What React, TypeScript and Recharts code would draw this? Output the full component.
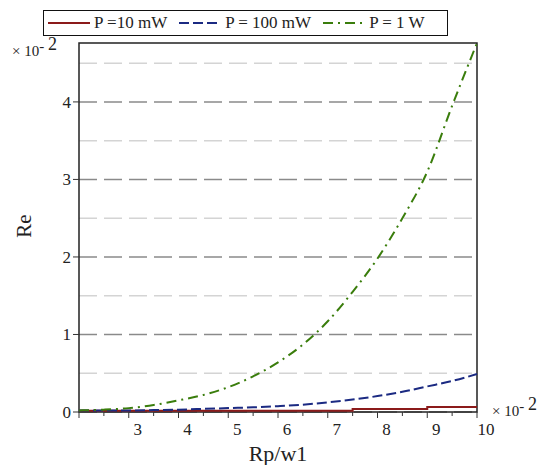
import { LineChart, Line, XAxis, YAxis, CartesianGrid, ReferenceArea, Customized } from 'recharts'

// Rp/w1 values (x 10^-2)
const rpW1 = [2, 2.5, 3, 3.5, 4, 4.5, 5, 5.5, 6, 6.5, 7, 7.5, 8, 8.5, 9, 9.5, 10]

// Re values (x 10^-2)
const reP10mW = [0.015, 0.015, 0.015, 0.015, 0.015, 0.015, 0.015, 0.015, 0.015, 0.015, 0.015, 0.04, 0.04, 0.04, 0.065, 0.065, 0.065]
const reP100mW = [0.02, 0.02, 0.02, 0.025, 0.03, 0.04, 0.05, 0.06, 0.075, 0.095, 0.125, 0.16, 0.205, 0.26, 0.33, 0.4, 0.49]
const reP1W = [0.02, 0.03, 0.05, 0.09, 0.15, 0.22, 0.32, 0.46, 0.64, 0.87, 1.17, 1.55, 1.98, 2.5, 3.1, 3.95, 4.76]

const xTicks = [2, 2.5, 3, 3.5, 4, 4.5, 5, 5.5, 6, 6.5, 7, 7.5, 8, 8.5, 9, 9.5, 10]
const yTicks = [0, 1, 2, 3, 4]
const yHalfLines = [0.5, 1.5, 2.5, 3.5, 4.5]

const series = [
  { key: 'p10', name: 'P =10 mW', color: '#8b1a1a', dash: undefined, values: reP10mW },
  { key: 'p100', name: 'P = 100 mW', color: '#1b2a82', dash: '10 4', values: reP100mW },
  { key: 'p1', name: 'P = 1 W', color: '#3a7d0c', dash: '10 5 2 5', values: reP1W },
]

const data = rpW1.map((x, i) => ({
  x,
  p10: reP10mW[i],
  p100: reP100mW[i],
  p1: reP1W[i],
}))

const FONT = '"Liberation Serif", "Times New Roman", serif'

const XTick = ({ x, y, payload }: any) => {
  const v = payload.value
  const major = Number.isInteger(v)
  return (
    <g>
      <line x1={x} y1={y} x2={x} y2={y + (major ? 6 : 4)} stroke="#333" strokeWidth={1} />
      {major && v >= 3 && (
        <text x={x + 9} y={y + 23} textAnchor="middle" fontFamily={FONT} fontSize={17} fill="#222">
          {v}
        </text>
      )}
    </g>
  )
}

const YTick = ({ x, y, payload }: any) => (
  <g>
    <line x1={x - 6} y1={y} x2={x} y2={y} stroke="#333" strokeWidth={1} />
    <text x={x - 8} y={y + 6} textAnchor="end" fontFamily={FONT} fontSize={17} fill="#222">
      {payload.value}
    </text>
  </g>
)

const Extras = () => (
  <g fontFamily={FONT} fill="#222">
    <text x={278} y={461} textAnchor="middle" fontSize={22}>Rp/w1</text>
    <text x={31} y={226} textAnchor="middle" fontSize={21} transform="rotate(-90 31 226)">Re</text>
    <text x={12} y={56} fontSize={15}>
      × 10<tspan dy={-5}>- </tspan><tspan fontSize={18} dy={-1}>2</tspan>
    </text>
    <text x={492} y={416} fontSize={15}>
      × 10<tspan dy={-5}>- </tspan><tspan fontSize={18} dy={-1}>2</tspan>
    </text>
  </g>
)

const LegendSample = ({ color, dash }: { color: string; dash?: string }) => (
  <svg width={42} height={10} style={{ display: 'block' }}>
    <line x1={0} y1={5} x2={42} y2={5} stroke={color} strokeWidth={2} strokeDasharray={dash} />
  </svg>
)

export default function App() {
  return (
    <div style={{ position: 'absolute', left: 0, top: 0, width: 542, height: 465, background: '#fff' }}>
      <div
        style={{
          position: 'absolute',
          left: 43,
          top: 10,
          width: 405,
          height: 26,
          boxSizing: 'border-box',
          border: '1.5px solid #111',
          display: 'flex',
          alignItems: 'center',
          paddingLeft: 4,
          fontFamily: FONT,
          fontSize: 17,
          color: '#222',
          zIndex: 2,
          background: '#fff',
        }}
      >
        {series.map((s) => (
          <div key={s.key} style={{ display: 'flex', alignItems: 'center', marginRight: 12 }}>
            <LegendSample color={s.color} dash={s.dash} />
            <span style={{ marginLeft: 4, whiteSpace: 'nowrap' }}>{s.name}</span>
          </div>
        ))}
      </div>
      <LineChart width={542} height={465} data={data} margin={{ top: 43, right: 65, bottom: 0, left: 0 }}>
        <CartesianGrid vertical={false} horizontalValues={yHalfLines} stroke="#d4d4d4" strokeWidth={1.5} strokeDasharray="18 7" />
        <CartesianGrid vertical={false} horizontalValues={yTicks} stroke="#8a8a8a" strokeWidth={1.5} strokeDasharray="18 7" />
        <XAxis
          dataKey="x"
          type="number"
          domain={[2, 10]}
          ticks={xTicks}
          height={53}
          tickSize={0}
          tickMargin={0}
          axisLine={false}
          tick={<XTick />}
          interval={0}
        />
        <YAxis
          type="number"
          domain={[0, 4.76]}
          ticks={yTicks}
          width={79}
          tickSize={0}
          tickMargin={0}
          axisLine={false}
          tick={<YTick />}
          interval={0}
        />
        <Line type="stepAfter" dataKey="p10" stroke="#8b1a1a" strokeWidth={2} dot={false} isAnimationActive={false} />
        <Line type="monotone" dataKey="p100" stroke="#1b2a82" strokeWidth={2} strokeDasharray="10 4" dot={false} isAnimationActive={false} />
        <Line type="monotone" dataKey="p1" stroke="#3a7d0c" strokeWidth={2} strokeDasharray="10 5 2 5" dot={false} isAnimationActive={false} />
        <ReferenceArea x1={2} x2={10} y1={0} y2={4.76} fill="none" stroke="#222" strokeWidth={1.5} ifOverflow="visible" />
        <Customized component={Extras} />
      </LineChart>
    </div>
  )
}
